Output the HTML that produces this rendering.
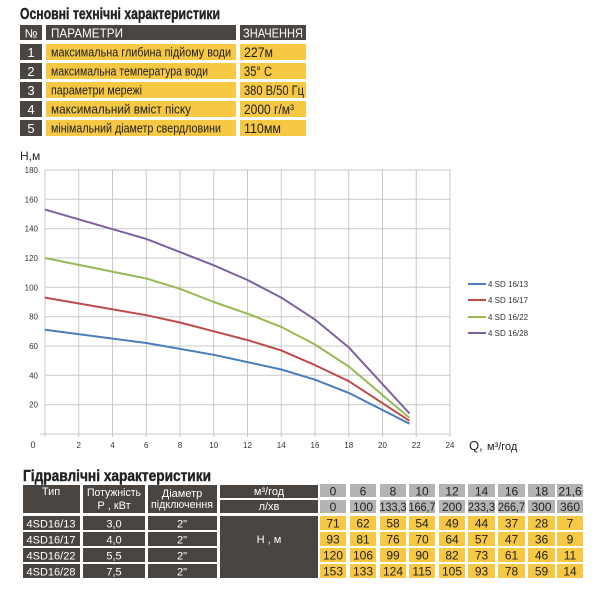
<!DOCTYPE html>
<html><head><meta charset="utf-8"><style>
html,body{margin:0;padding:0;background:#fff;}
svg{display:block;font-family:"Liberation Sans","DejaVu Sans",sans-serif;}
</style></head><body>
<svg width="600" height="600" viewBox="0 0 600 600" xmlns="http://www.w3.org/2000/svg">
<rect width="600" height="600" fill="#fff"/>
<text x="20" y="19" font-size="16" font-weight="bold" fill="#222" stroke="#222" stroke-width="0.4" textLength="200" lengthAdjust="spacingAndGlyphs">Основні технічні характеристики</text>
<rect x="20" y="25" width="22" height="15" fill="#4a4541"/>
<rect x="46" y="25" width="190" height="15" fill="#4a4541"/>
<rect x="240" y="25" width="66" height="15" fill="#4a4541"/>
<text x="31" y="37.5" font-size="12" fill="#fff" text-anchor="middle">№</text>
<text x="51" y="37.5" font-size="13" fill="#fff" textLength="72" lengthAdjust="spacingAndGlyphs">ПАРАМЕТРИ</text>
<text x="243" y="37.5" font-size="13" fill="#fff" textLength="60" lengthAdjust="spacingAndGlyphs">ЗНАЧЕННЯ</text>
<g font-size="13">
<rect x="20" y="44" width="22" height="16" fill="#4a4541"/><rect x="46" y="44" width="190" height="16" fill="#f6c844"/><rect x="240" y="44" width="66" height="16" fill="#f6c844"/>
<text x="31" y="57" fill="#fff" text-anchor="middle">1</text><text x="51" y="56.5" fill="#222" textLength="180" lengthAdjust="spacingAndGlyphs">максимальна глибина підйому води</text><text x="244" y="57" fill="#222" font-size="14" textLength="29" lengthAdjust="spacingAndGlyphs">227м</text>
<rect x="20" y="63" width="22" height="16" fill="#4a4541"/><rect x="46" y="63" width="190" height="16" fill="#f6c844"/><rect x="240" y="63" width="66" height="16" fill="#f6c844"/>
<text x="31" y="76" fill="#fff" text-anchor="middle">2</text><text x="51" y="75.5" fill="#222" textLength="157" lengthAdjust="spacingAndGlyphs">максимальна температура води</text><text x="244" y="76" fill="#222" font-size="14" textLength="28" lengthAdjust="spacingAndGlyphs">35° C</text>
<rect x="20" y="82" width="22" height="16" fill="#4a4541"/><rect x="46" y="82" width="190" height="16" fill="#f6c844"/><rect x="240" y="82" width="66" height="16" fill="#f6c844"/>
<text x="31" y="95" fill="#fff" text-anchor="middle">3</text><text x="51" y="94.5" fill="#222" textLength="91" lengthAdjust="spacingAndGlyphs">параметри мережі</text><text x="244" y="95" fill="#222" font-size="14" textLength="60" lengthAdjust="spacingAndGlyphs">380 В/50 Гц</text>
<rect x="20" y="101" width="22" height="16" fill="#4a4541"/><rect x="46" y="101" width="190" height="16" fill="#f6c844"/><rect x="240" y="101" width="66" height="16" fill="#f6c844"/>
<text x="31" y="114" fill="#fff" text-anchor="middle">4</text><text x="51" y="113.5" fill="#222" textLength="140" lengthAdjust="spacingAndGlyphs">максимальний вміст піску</text><text x="244" y="114" fill="#222" font-size="14" textLength="50" lengthAdjust="spacingAndGlyphs">2000 г/м³</text>
<rect x="20" y="120" width="22" height="16" fill="#4a4541"/><rect x="46" y="120" width="190" height="16" fill="#f6c844"/><rect x="240" y="120" width="66" height="16" fill="#f6c844"/>
<text x="31" y="133" fill="#fff" text-anchor="middle">5</text><text x="51" y="132.5" fill="#222" textLength="170" lengthAdjust="spacingAndGlyphs">мінімальний діаметр свердловини</text><text x="244" y="133" fill="#222" font-size="14" textLength="37" lengthAdjust="spacingAndGlyphs">110мм</text>
</g>
<text x="20" y="160" font-size="12" fill="#222">Н,м</text>
<g stroke="#c8c8c8" stroke-width="1">
<line x1="45" y1="170" x2="450" y2="170"/><line x1="45" y1="199.3" x2="450" y2="199.3"/><line x1="45" y1="228.7" x2="450" y2="228.7"/><line x1="45" y1="258" x2="450" y2="258"/><line x1="45" y1="287.3" x2="450" y2="287.3"/><line x1="45" y1="316.7" x2="450" y2="316.7"/><line x1="45" y1="346" x2="450" y2="346"/><line x1="45" y1="375.3" x2="450" y2="375.3"/><line x1="45" y1="404.7" x2="450" y2="404.7"/><line x1="40" y1="434" x2="450" y2="434"/>
<line x1="45" y1="170" x2="45" y2="437"/><line x1="78.75" y1="170" x2="78.75" y2="437"/><line x1="112.5" y1="170" x2="112.5" y2="437"/><line x1="146.25" y1="170" x2="146.25" y2="437"/><line x1="180" y1="170" x2="180" y2="437"/><line x1="213.75" y1="170" x2="213.75" y2="437"/><line x1="247.5" y1="170" x2="247.5" y2="437"/><line x1="281.25" y1="170" x2="281.25" y2="437"/><line x1="315" y1="170" x2="315" y2="437"/><line x1="348.75" y1="170" x2="348.75" y2="437"/><line x1="382.5" y1="170" x2="382.5" y2="437"/><line x1="416.25" y1="170" x2="416.25" y2="437"/><line x1="450" y1="170" x2="450" y2="437"/>
</g>
<g font-size="8" fill="#333" text-anchor="end">
<text x="38" y="173">180</text><text x="38" y="202.3">160</text><text x="38" y="231.7">140</text><text x="38" y="261">120</text><text x="38" y="290.3">100</text><text x="38" y="319.7">80</text><text x="38" y="349">60</text><text x="38" y="378.3">40</text><text x="38" y="407.7">20</text>
</g>
<text x="33" y="448" font-size="9" fill="#333" text-anchor="middle">0</text>
<g font-size="8" fill="#333" text-anchor="middle">
<text x="78.75" y="448">2</text><text x="112.5" y="448">4</text><text x="146.25" y="448">6</text><text x="180" y="448">8</text><text x="213.75" y="448">10</text><text x="247.5" y="448">12</text><text x="281.25" y="448">14</text><text x="315" y="448">16</text><text x="348.75" y="448">18</text><text x="382.5" y="448">20</text><text x="416.25" y="448">22</text><text x="450" y="448">24</text>
</g>
<text x="469" y="450" font-size="13" fill="#222">Q,</text>
<text x="487" y="450" font-size="11" fill="#222">м³/год</text>
<g fill="none" stroke-width="2" stroke-linejoin="round">
<polyline stroke="#4a7ebb" points="45,329.8 146.3,343 180,348.9 213.8,354.8 247.5,362.1 281.3,369.5 315,379.7 348.8,392.9 409.5,423.7"/>
<polyline stroke="#be4b48" points="45,297.6 146.3,315.2 180,322.5 213.8,331.3 247.5,340.1 281.3,350.4 315,365.1 348.8,381.2 409.5,420.8"/>
<polyline stroke="#98b954" points="45,258 146.3,278.5 180,288.8 213.8,302 247.5,313.7 281.3,326.9 315,344.5 348.8,366.5 409.5,417.9"/>
<polyline stroke="#7d60a0" points="45,209.6 146.3,238.9 180,252.1 213.8,265.3 247.5,280 281.3,297.6 315,319.6 348.8,347.4 409.5,413.5"/>
</g>
<g stroke-width="2">
<line x1="468" y1="284" x2="486" y2="284" stroke="#4a7ebb"/>
<line x1="468" y1="300" x2="486" y2="300" stroke="#be4b48"/>
<line x1="468" y1="317" x2="486" y2="317" stroke="#98b954"/>
<line x1="468" y1="333" x2="486" y2="333" stroke="#7d60a0"/>
</g>
<g font-size="8" fill="#333">
<text x="488" y="287">4 SD 16/13</text><text x="488" y="303">4 SD 16/17</text><text x="488" y="320">4 SD 16/22</text><text x="488" y="336">4 SD 16/28</text>
</g>
<text x="23" y="481" font-size="16" font-weight="bold" fill="#222" stroke="#222" stroke-width="0.4" textLength="188" lengthAdjust="spacingAndGlyphs">Гідравлічні характеристики</text>
<g fill="#4a4541">
<rect x="23" y="485" width="57" height="28"/><rect x="83" y="485" width="62" height="28"/><rect x="148" y="485" width="69" height="28"/>
<rect x="220" y="485" width="98" height="13"/><rect x="220" y="500" width="98" height="13"/>
<rect x="23" y="516" width="57" height="14"/><rect x="83" y="516" width="62" height="14"/><rect x="148" y="516" width="69" height="14"/>
<rect x="23" y="532" width="57" height="14"/><rect x="83" y="532" width="62" height="14"/><rect x="148" y="532" width="69" height="14"/>
<rect x="23" y="548" width="57" height="14"/><rect x="83" y="548" width="62" height="14"/><rect x="148" y="548" width="69" height="14"/>
<rect x="23" y="564" width="57" height="14"/><rect x="83" y="564" width="62" height="14"/><rect x="148" y="564" width="69" height="14"/>
<rect x="220" y="516" width="98" height="62"/>
</g>
<g fill="#fff" font-size="11" text-anchor="middle">
<text x="51" y="495">Тип</text><text x="114" y="496" textLength="54" lengthAdjust="spacingAndGlyphs">Потужність</text><text x="114" y="509">Р , кВт</text>
<text x="182" y="497">Діаметр</text><text x="182" y="508" textLength="62" lengthAdjust="spacingAndGlyphs">підключення</text>
<text x="269" y="495">м³/год</text><text x="269" y="510">л/хв</text>
<text x="51" y="527.5">4SD16/13</text><text x="114" y="527.5">3,0</text><text x="182" y="527.5">2"</text>
<text x="51" y="543.5">4SD16/17</text><text x="114" y="543.5">4,0</text><text x="182" y="543.5">2"</text>
<text x="51" y="559.5">4SD16/22</text><text x="114" y="559.5">5,5</text><text x="182" y="559.5">2"</text>
<text x="51" y="575.5">4SD16/28</text><text x="114" y="575.5">7,5</text><text x="182" y="575.5">2"</text>
<text x="269" y="543">Н , м</text>
</g>
<g>
<g fill="#b4b4b6">
<rect x="320" y="484" width="26" height="13"/><rect x="350" y="484" width="26" height="13"/><rect x="380" y="484" width="26" height="13"/><rect x="409" y="484" width="26" height="13"/><rect x="439" y="484" width="26" height="13"/><rect x="468" y="484" width="27" height="13"/><rect x="498" y="484" width="27" height="13"/><rect x="528" y="484" width="27" height="13"/><rect x="557" y="484" width="26" height="13"/>
<rect x="320" y="500" width="26" height="13"/><rect x="350" y="500" width="26" height="13"/><rect x="380" y="500" width="26" height="13"/><rect x="409" y="500" width="26" height="13"/><rect x="439" y="500" width="26" height="13"/><rect x="468" y="500" width="27" height="13"/><rect x="498" y="500" width="27" height="13"/><rect x="528" y="500" width="27" height="13"/><rect x="557" y="500" width="26" height="13"/>
</g>
<g fill="#f6c844">
<rect x="320" y="516" width="26" height="14"/><rect x="350" y="516" width="26" height="14"/><rect x="380" y="516" width="26" height="14"/><rect x="409" y="516" width="26" height="14"/><rect x="439" y="516" width="26" height="14"/><rect x="468" y="516" width="27" height="14"/><rect x="498" y="516" width="27" height="14"/><rect x="528" y="516" width="27" height="14"/><rect x="557" y="516" width="26" height="14"/>
<rect x="320" y="532" width="26" height="14"/><rect x="350" y="532" width="26" height="14"/><rect x="380" y="532" width="26" height="14"/><rect x="409" y="532" width="26" height="14"/><rect x="439" y="532" width="26" height="14"/><rect x="468" y="532" width="27" height="14"/><rect x="498" y="532" width="27" height="14"/><rect x="528" y="532" width="27" height="14"/><rect x="557" y="532" width="26" height="14"/>
<rect x="320" y="548" width="26" height="14"/><rect x="350" y="548" width="26" height="14"/><rect x="380" y="548" width="26" height="14"/><rect x="409" y="548" width="26" height="14"/><rect x="439" y="548" width="26" height="14"/><rect x="468" y="548" width="27" height="14"/><rect x="498" y="548" width="27" height="14"/><rect x="528" y="548" width="27" height="14"/><rect x="557" y="548" width="26" height="14"/>
<rect x="320" y="564" width="26" height="14"/><rect x="350" y="564" width="26" height="14"/><rect x="380" y="564" width="26" height="14"/><rect x="409" y="564" width="26" height="14"/><rect x="439" y="564" width="26" height="14"/><rect x="468" y="564" width="27" height="14"/><rect x="498" y="564" width="27" height="14"/><rect x="528" y="564" width="27" height="14"/><rect x="557" y="564" width="26" height="14"/>
</g>
<g fill="#222" font-size="12" text-anchor="middle">
<text x="333" y="495.5">0</text><text x="363" y="495.5">6</text><text x="393" y="495.5">8</text><text x="422" y="495.5">10</text><text x="452" y="495.5">12</text><text x="481.5" y="495.5">14</text><text x="511.5" y="495.5">16</text><text x="541.5" y="495.5">18</text><text x="570" y="495.5">21,6</text>
<text x="333" y="511">0</text><text x="363" y="511">100</text><text x="393" y="511" textLength="27" lengthAdjust="spacingAndGlyphs">133,3</text><text x="422" y="511" textLength="27" lengthAdjust="spacingAndGlyphs">166,7</text><text x="452" y="511">200</text><text x="481.5" y="511" textLength="27" lengthAdjust="spacingAndGlyphs">233,3</text><text x="511.5" y="511" textLength="27" lengthAdjust="spacingAndGlyphs">266,7</text><text x="541.5" y="511">300</text><text x="570" y="511">360</text>
<text x="333" y="527.5">71</text><text x="363" y="527.5">62</text><text x="393" y="527.5">58</text><text x="422" y="527.5">54</text><text x="452" y="527.5">49</text><text x="481.5" y="527.5">44</text><text x="511.5" y="527.5">37</text><text x="541.5" y="527.5">28</text><text x="570" y="527.5">7</text>
<text x="333" y="543.5">93</text><text x="363" y="543.5">81</text><text x="393" y="543.5">76</text><text x="422" y="543.5">70</text><text x="452" y="543.5">64</text><text x="481.5" y="543.5">57</text><text x="511.5" y="543.5">47</text><text x="541.5" y="543.5">36</text><text x="570" y="543.5">9</text>
<text x="333" y="559.5">120</text><text x="363" y="559.5">106</text><text x="393" y="559.5">99</text><text x="422" y="559.5">90</text><text x="452" y="559.5">82</text><text x="481.5" y="559.5">73</text><text x="511.5" y="559.5">61</text><text x="541.5" y="559.5">46</text><text x="570" y="559.5">11</text>
<text x="333" y="575.5">153</text><text x="363" y="575.5">133</text><text x="393" y="575.5">124</text><text x="422" y="575.5">115</text><text x="452" y="575.5">105</text><text x="481.5" y="575.5">93</text><text x="511.5" y="575.5">78</text><text x="541.5" y="575.5">59</text><text x="570" y="575.5">14</text>
</g>
</g>
</svg>
</body></html>
